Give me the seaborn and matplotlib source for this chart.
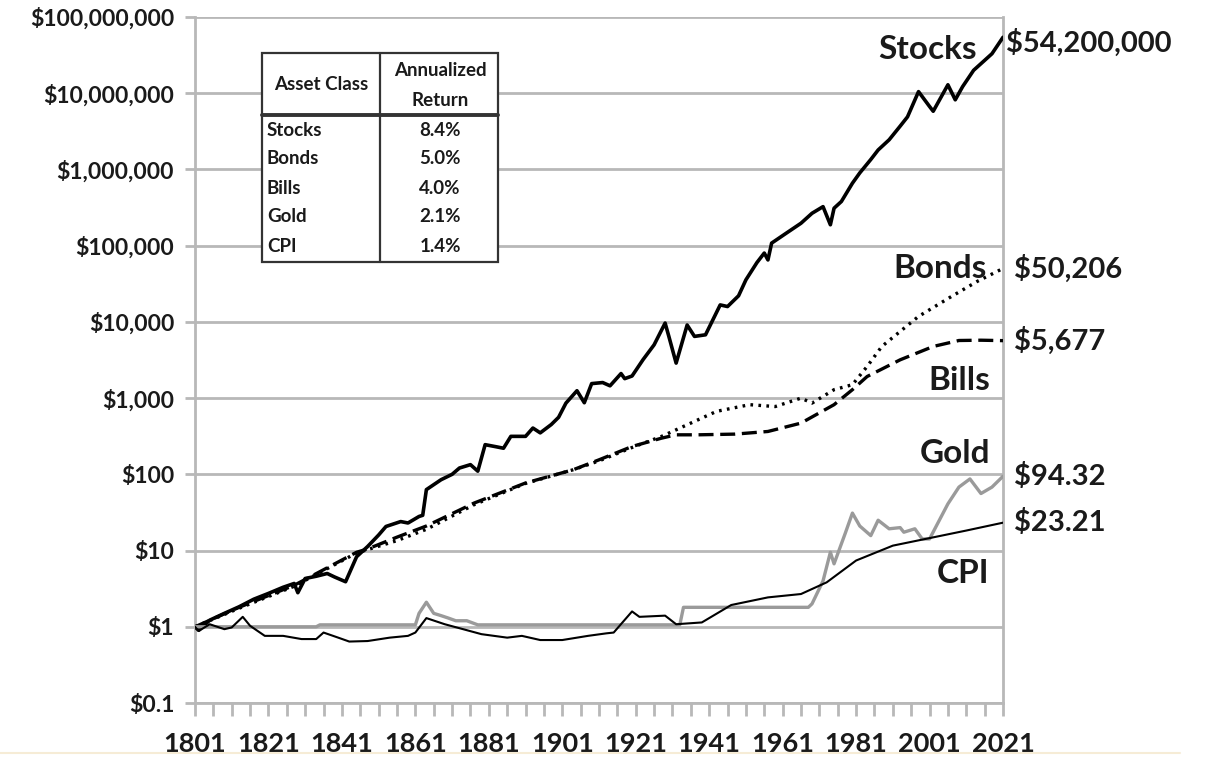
import matplotlib
matplotlib.use("Agg")
import matplotlib.pyplot as plt
from matplotlib.patches import Rectangle
from matplotlib.lines import Line2D
from matplotlib.ticker import FixedLocator, FuncFormatter
import seaborn as sns
import pandas as pd

# values ($1 invested in 1801)
stock_years = [1801, 1802, 1805, 1809, 1813, 1817, 1821, 1825, 1828, 1829, 1831, 1834, 1837, 1839,
               1842, 1845, 1848, 1851, 1853, 1857, 1859, 1862, 1863, 1864, 1868, 1871, 1873, 1876,
               1878, 1880, 1883, 1885, 1887, 1891, 1893, 1895, 1898, 1900, 1902, 1905, 1907, 1909,
               1912, 1914, 1917, 1918, 1920, 1923, 1926, 1929, 1930, 1932, 1935, 1937, 1940, 1944,
               1946, 1949, 1951, 1954, 1956, 1957, 1958, 1962, 1966, 1969, 1972, 1974, 1975, 1977,
               1980, 1982, 1985, 1987, 1990, 1993, 1995, 1998, 2001, 2002, 2006, 2008, 2010, 2013,
               2016, 2018, 2021]
stock_vals = [1.0, 0.9, 1.22, 1.5, 1.83, 2.3, 2.74, 3.3, 3.7, 2.8, 4.3, 4.6, 5.0, 4.5,
              3.9, 8.3, 11.3, 16, 20.7, 24, 23, 28, 29, 63, 85, 100, 121, 134,
              110, 245, 230, 220, 315, 315, 405, 350, 450, 560, 860, 1250, 870, 1550,
              1600, 1450, 2100, 1800, 1950, 3200, 5000, 9650, 6500, 2880, 9100, 6450, 6770, 16700,
              15900, 22000, 35600, 60000, 80000, 65000, 108000, 146000, 197000, 266000, 325000, 188000, 310000, 380000,
              660000, 900000, 1350000, 1800000, 2450000, 3700000, 4900000, 10500000, 6700000, 5800000, 12900000, 8200000, 12200000, 20000000,
              27000000, 33000000, 54200000]

bond_years = [1801, 1813, 1828, 1845, 1856, 1864, 1877, 1891, 1904, 1911, 1920, 1928, 1934,
              1943, 1952, 1959, 1966, 1969, 1975, 1980, 1984, 1988, 1998, 2007, 2014, 2021]
bond_vals = [1.0, 1.75, 3.4, 9.3, 13.5, 19, 40, 76, 115, 150, 225, 314, 425,
             670, 820, 775, 1000, 860, 1290, 1500, 2600, 4760, 11800, 21600, 34000, 50206]

bill_years = [1801, 1813, 1828, 1845, 1848, 1856, 1864, 1877, 1891, 1904, 1911, 1920, 1928,
              1932, 1938, 1948, 1957, 1966, 1975, 1980, 1984, 1993, 2002, 2009, 2015, 2021]
bill_vals = [1.0, 1.8, 3.5, 9.5, 10.5, 15, 21, 42, 77, 115, 155, 232, 298,
             330, 330, 337, 365, 470, 820, 1290, 1920, 3180, 4760, 5700, 5750, 5677]

gold_years = [1801, 1834, 1835, 1861, 1862, 1864, 1866, 1868, 1870, 1872, 1875, 1878, 1933,
              1934, 1968, 1969, 1972, 1974, 1975, 1978, 1980, 1982, 1985, 1987, 1990, 1993,
              1994, 1997, 1999, 2001, 2006, 2009, 2012, 2015, 2018, 2021]
gold_vals = [1.0, 1.0, 1.06, 1.06, 1.5, 2.1, 1.5, 1.4, 1.3, 1.2, 1.2, 1.06, 1.06,
             1.8, 1.8, 2.0, 4.0, 9.5, 6.7, 16.6, 31, 21, 15.7, 25, 19.3, 20,
             17.4, 19.3, 14.2, 14.2, 41, 68, 87, 56, 68, 94.32]

cpi_years = [1801, 1802, 1805, 1809, 1811, 1814, 1816, 1820, 1825, 1830, 1834, 1836, 1840, 1843,
             1848, 1854, 1859, 1861, 1864, 1869, 1874, 1879, 1886, 1890, 1895, 1901, 1908, 1913,
             1915, 1920, 1922, 1929, 1932, 1939, 1947, 1957, 1966, 1973, 1981, 1991, 2002, 2011, 2021]
cpi_vals = [1.0, 0.88, 1.08, 0.93, 0.98, 1.35, 1.03, 0.76, 0.76, 0.69, 0.69, 0.84, 0.72, 0.64,
            0.65, 0.72, 0.76, 0.84, 1.3, 1.08, 0.93, 0.8, 0.72, 0.76, 0.67, 0.67, 0.76, 0.82,
            0.84, 1.59, 1.35, 1.4, 1.08, 1.14, 1.93, 2.43, 2.69, 3.83, 7.4, 11.6, 14.9, 18.3, 23.21]

table_assets = ["Stocks", "Bonds", "Bills", "Gold", "CPI"]
table_returns = ["8.4%", "5.0%", "4.0%", "2.1%", "1.4%"]
end_labels = ["$54,200,000", "$50,206", "$5,677", "$94.32", "$23.21"]
x_labels = list(range(1801, 2022, 20))

sns.set_theme(style="white")
plt.rcParams["font.family"] = ["Lato", "DejaVu Sans"]

W, H = 1206, 775
fig = plt.figure(figsize=(W / 100, H / 100), dpi=100)
ax = fig.add_axes([195 / W, 1 - 703 / H, (1003 - 195) / W, (703 - 17) / H])

grid_c = "#b8b8b8"
gold_c = "#9a9a9a"
ink = "#1a1a1a"

series = [
    (stock_years, stock_vals, dict(color="black", lw=2.6)),
    (bond_years, bond_vals, dict(color="black", lw=2.4, linestyle=(0, (0.8, 1.6)))),
    (bill_years, bill_vals, dict(color="black", lw=2.4, linestyle=(0, (4.5, 2.0)))),
    (gold_years, gold_vals, dict(color=gold_c, lw=2.4)),
    (cpi_years, cpi_vals, dict(color="black", lw=1.5)),
]
for yrs, vals, kw in series:
    df = pd.DataFrame({"year": yrs, "value": vals})
    sns.lineplot(data=df, x="year", y="value", ax=ax, zorder=4, **kw)

ax.set_yscale("log")
ax.set_xlim(1801, 2021)
ax.set_ylim(0.1, 1e8)
ax.set_xlabel("")
ax.set_ylabel("")

# gridlines
ax.yaxis.set_major_locator(FixedLocator([10.0 ** k for k in range(-1, 9)]))
ax.yaxis.set_minor_locator(FixedLocator([]))
ax.grid(axis="y", color=grid_c, lw=2, zorder=0)
ax.grid(axis="x", visible=False)


def dollar(v, pos):
    if v < 1:
        return "$0.1"
    return "${:,.0f}".format(v)


ax.yaxis.set_major_formatter(FuncFormatter(dollar))
ax.xaxis.set_major_locator(FixedLocator(x_labels))
ax.xaxis.set_minor_locator(FixedLocator(list(range(1801, 2022, 5))))
ax.xaxis.set_major_formatter(FuncFormatter(lambda v, p: str(int(round(v)))))
ax.tick_params(axis="y", which="major", left=True, length=7, width=2, color=grid_c,
               labelsize=16.5, pad=8)
ax.tick_params(axis="x", which="both", bottom=True, length=9, width=2, color=grid_c,
               direction="out")
ax.tick_params(axis="x", which="major", labelsize=19.5, pad=12)
for lab in ax.get_yticklabels() + ax.get_xticklabels():
    lab.set_fontweight("bold")
    lab.set_color(ink)
for side in ["left", "right", "bottom"]:
    ax.spines[side].set_color(grid_c)
    ax.spines[side].set_linewidth(2)
ax.spines["top"].set_visible(False)

# value labels at the right end
finals = [stock_vals[-1], bond_vals[-1], bill_vals[-1], gold_vals[-1], cpi_vals[-1]]
for i, (txt, v) in enumerate(zip(end_labels, finals)):
    ax.annotate(txt, xy=(2021, v), xytext=(2 if i == 0 else 8, -4 if i == 0 else 0),
                textcoords="offset points", ha="left", va="center", fontsize=21,
                fontweight="bold", color=ink, annotation_clip=False)

# series names
names = [("Stocks", 2014, 3.8e7), ("Bonds", 2016.5, 5.0e4), ("Bills", 2017.4, 1.7e3),
         ("Gold", 2017.4, 190), ("CPI", 2017.4, 5.0)]
for txt, x, y in names:
    ax.text(x, y, txt, ha="right", va="center", fontsize=24, fontweight="bold",
            color=ink, zorder=6)


# summary table (figure pixel coordinates)
def fp(x, y):
    return (x / W, 1 - y / H)


tl, tr, tt, tb, tm, th = 262, 498, 53, 262, 380, 115
rect = Rectangle(fp(tl, tb), (tr - tl) / W, (tb - tt) / H, transform=fig.transFigure,
                 facecolor="white", edgecolor="#333333", lw=1.6, zorder=5)
fig.add_artist(rect)
fig.add_artist(Line2D([tm / W, tm / W], [1 - tt / H, 1 - tb / H], color="#333333", lw=1.6, zorder=6))
fig.add_artist(Line2D([tl / W, tr / W], [1 - th / H, 1 - th / H], color="#333333", lw=2.8, zorder=6))
fs = 13.5
fig.text(*fp(321, 85), "Asset Class", ha="center", va="center", fontsize=fs,
         fontweight="bold", color=ink, zorder=7)
fig.text(*fp(440, 71), "Annualized", ha="center", va="center", fontsize=fs,
         fontweight="bold", color=ink, zorder=7)
fig.text(*fp(440, 100), "Return", ha="center", va="center", fontsize=fs,
         fontweight="bold", color=ink, zorder=7)
row_y = [130, 159, 188, 217, 246]
for name, ret, ry in zip(table_assets, table_returns, row_y):
    fig.text(*fp(267, ry), name, ha="left", va="center", fontsize=fs, fontweight="bold",
             color=ink, zorder=7)
    fig.text(*fp(440, ry), ret, ha="center", va="center", fontsize=fs, fontweight="bold",
             color=ink, zorder=7)

# faint cream rule near the bottom
fig.add_artist(Line2D([0, 1180 / W], [1 - 753 / H, 1 - 753 / H], color="#f6ecd6", lw=1.5))

fig.savefig("out.png", dpi=100, facecolor="white")
